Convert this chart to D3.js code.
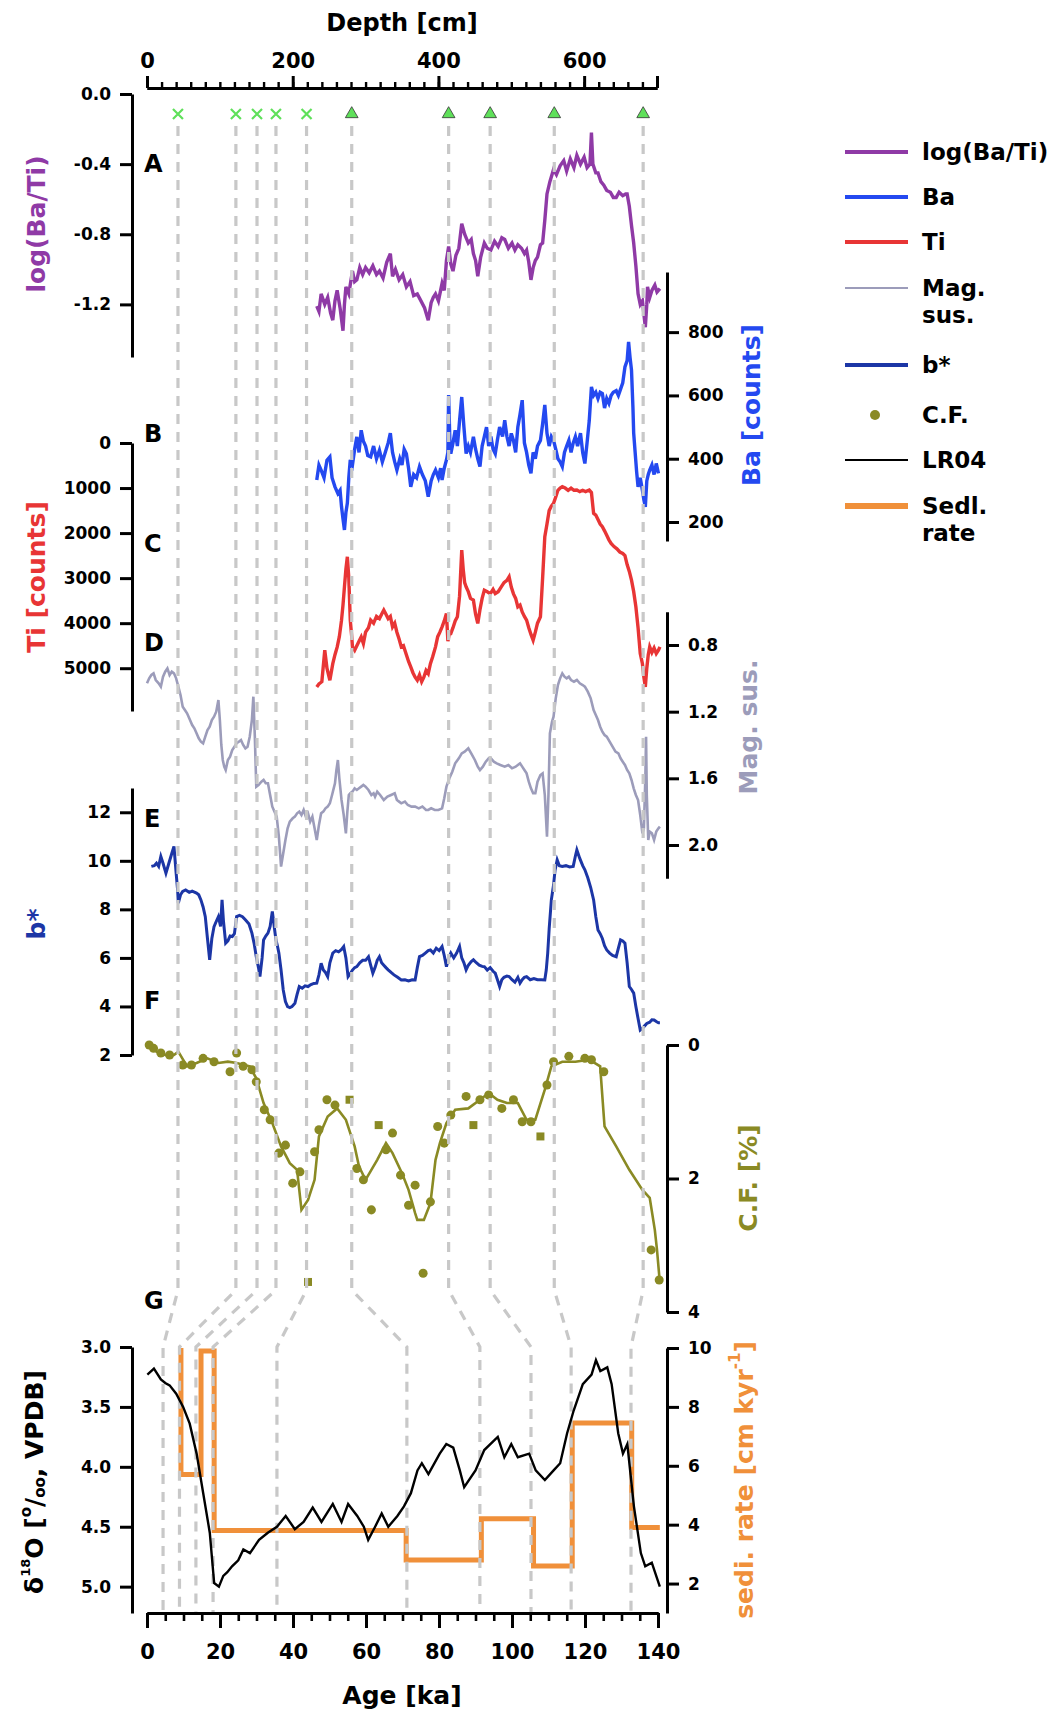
<!DOCTYPE html>
<html><head><meta charset="utf-8">
<script src="https://cdn.jsdelivr.net/npm/d3@7"></script>
<style>
body{margin:0;background:#fff}
svg text{font-family:"DejaVu Sans",Verdana,sans-serif;font-weight:bold}
</style>
</head><body>
<svg id="c" width="1055" height="1713"></svg>
<script>
// ---------------- DATA ----------------
const tieDepth = [42.5, 122, 151, 177, 219, 281, 414, 471, 559, 681];
const tieAge   = [4.4, 8.9, 13.4, 18.1, 35.6, 71.2, 91.2, 105.2, 116.2, 132.6];
const tieType  = ["x","x","x","x","x","tri","tri","tri","tri","tri"];

const depthTicks = [0, 200, 400, 600];
const ageTicks = [0, 20, 40, 60, 80, 100, 120, 140];
const logTicks = [0, -0.4, -0.8, -1.2];
const baTicks = [200, 400, 600, 800];
const tiTicks = [0, 1000, 2000, 3000, 4000, 5000];
const magTicks = [0.8, 1.2, 1.6, 2.0];
const bTicks = [2, 4, 6, 8, 10, 12];
const cfTicks = [0, 2, 4];
const d18Ticks = [3.0, 3.5, 4.0, 4.5, 5.0];
const sedTicks = [2, 4, 6, 8, 10];

// log(Ba/Ti) vs depth [cm]
const logBaTi = [[233,-1.21],[236,-1.24],[239,-1.14],[244,-1.20],[248,-1.16],[252,-1.25],[255,-1.29],[258,-1.18],[261,-1.12],[265,-1.22],[269,-1.35],[271,-1.20],[273,-1.10],[277,-1.14],[282,-1.01],[285,-1.07],[288,-1.06],[292,-0.99],[296,-1.03],[300,-0.99],[305,-1.02],[310,-0.98],[315,-1.03],[319,-1.01],[324,-1.05],[329,-0.96],[334,-0.91],[337,-1.04],[341,-1.00],[346,-1.06],[351,-1.03],[356,-1.10],[361,-1.07],[366,-1.15],[371,-1.14],[376,-1.18],[381,-1.22],[386,-1.29],[390,-1.19],[393,-1.16],[396,-1.14],[400,-1.18],[405,-1.08],[408,-1.12],[411,-0.95],[414,-0.87],[417,-0.97],[420,-1.01],[424,-0.92],[428,-0.88],[432,-0.74],[436,-0.80],[441,-0.85],[445,-0.83],[448,-0.91],[451,-0.95],[454,-1.04],[458,-0.93],[463,-0.85],[467,-0.88],[472,-0.89],[477,-0.84],[482,-0.87],[487,-0.82],[491,-0.83],[496,-0.88],[501,-0.85],[505,-0.89],[509,-0.86],[514,-0.88],[518,-0.91],[521,-0.89],[524,-0.96],[527,-1.06],[530,-0.99],[533,-0.95],[536,-0.93],[540,-0.86],[543,-0.85],[546,-0.72],[549,-0.57],[553,-0.50],[558,-0.43],[562,-0.46],[567,-0.41],[572,-0.38],[576,-0.44],[581,-0.37],[586,-0.42],[590,-0.35],[595,-0.40],[600,-0.36],[604,-0.42],[608,-0.40],[610,-0.22],[612,-0.40],[616,-0.45],[619,-0.45],[623,-0.50],[627,-0.52],[631,-0.55],[636,-0.56],[640,-0.59],[644,-0.59],[648,-0.56],[653,-0.58],[657,-0.57],[659,-0.57],[662,-0.64],[665,-0.75],[668,-0.85],[671,-0.98],[674,-1.14],[677,-1.20],[680,-1.18],[684,-1.33],[686,-1.20],[687,-1.10],[690,-1.16],[693,-1.12],[697,-1.09],[700,-1.13],[704,-1.11]];

// Ba [counts] vs depth
const ba = [[233,333],[236,380],[239,364],[243,340],[247,395],[251,406],[254,340],[258,311],[262,290],[265,300],[267,248],[269,210],[271,175],[273,230],[275,260],[277,340],[279,396],[282,380],[285,430],[288,469],[291,420],[294,490],[297,455],[300,440],[303,410],[307,406],[311,440],[315,400],[319,427],[323,390],[327,420],[331,450],[334,481],[337,420],[340,390],[343,364],[347,400],[350,380],[353,430],[356,416],[359,370],[362,311],[366,350],[370,340],[374,375],[378,350],[382,330],[386,280],[390,330],[393,350],[396,364],[400,340],[403,370],[405,333],[408,370],[411,396],[413,420],[414,601],[416,430],[417,416],[420,450],[423,490],[426,440],[429,520],[432,595],[435,500],[438,416],[441,440],[444,420],[448,469],[451,430],[454,400],[457,375],[460,440],[463,470],[466,500],[469,440],[472,470],[475,430],[478,416],[481,460],[484,500],[488,470],[491,522],[494,470],[497,440],[500,480],[503,458],[506,420],[509,500],[512,540],[515,585],[518,450],[521,420],[524,380],[527,354],[530,420],[533,400],[536,440],[540,458],[543,510],[546,570],[549,480],[552,440],[555,470],[558,458],[561,430],[564,400],[567,390],[570,375],[573,420],[576,440],[579,458],[582,420],[585,450],[588,470],[591,440],[595,481],[598,420],[601,385],[604,450],[607,520],[610,627],[613,600],[616,610],[619,590],[622,610],[625,606],[628,560],[631,590],[634,575],[637,600],[640,610],[644,615],[647,600],[650,620],[653,640],[656,690],[659,710],[661,769],[663,720],[665,680],[667,560],[668,481],[670,420],[672,360],[674,311],[677,340],[680,300],[682,270],[684,248],[686,330],[688,350],[690,364],[693,380],[696,350],[699,385],[702,354]];

// Ti [counts] vs depth
const ti = [[233,5415],[236,5350],[240,5300],[244,4600],[247,5000],[251,5267],[255,4900],[258,4700],[261,4533],[264,4300],[267,3933],[269,3600],[271,3193],[273,2800],[275,2526],[277,3000],[279,3933],[281,4300],[282,4526],[285,4600],[288,4500],[291,4400],[294,4304],[297,4450],[300,4200],[304,4100],[307,3933],[311,4000],[315,3850],[319,3900],[322,3800],[325,3711],[328,3800],[331,3900],[334,3850],[337,4082],[340,4000],[343,4200],[346,4350],[349,4526],[352,4500],[356,4700],[359,4850],[362,4970],[365,5100],[368,5200],[371,5267],[374,5150],[377,5300],[380,5200],[383,5050],[386,5119],[389,4900],[392,4750],[396,4526],[399,4300],[402,4200],[405,4082],[408,3950],[411,3785],[413,4400],[415,4230],[417,4230],[420,4100],[423,3950],[426,3859],[429,3400],[432,2377],[434,2800],[436,3100],[438,3193],[441,3300],[444,3450],[448,3489],[451,3800],[454,4007],[457,3700],[460,3450],[463,3267],[467,3300],[471,3350],[475,3250],[478,3341],[482,3300],[486,3200],[490,3100],[494,3050],[497,2970],[500,3200],[503,3350],[506,3450],[509,3637],[512,3600],[515,3750],[518,3850],[521,3933],[524,4100],[527,4250],[530,4378],[533,4200],[536,4000],[540,3859],[543,3000],[546,2081],[549,1800],[552,1500],[555,1400],[558,1341],[561,1200],[564,1050],[567,1000],[570,970],[574,1000],[578,1050],[582,1000],[586,1050],[590,1044],[594,1080],[598,1050],[602,1080],[607,1044],[610,1100],[613,1563],[616,1600],[619,1700],[622,1800],[625,1859],[628,1950],[631,2050],[634,2150],[637,2230],[641,2300],[645,2350],[649,2420],[653,2452],[656,2500],[659,2700],[662,2850],[665,3044],[668,3300],[671,3637],[674,4100],[677,4674],[680,4900],[682,5200],[684,5415],[686,5000],[688,4700],[690,4526],[693,4650],[696,4550],[699,4674],[702,4600],[704,4526]];

// Magnetic susceptibility vs depth
const magSus = [[0,1.03],[3,1.00],[6,0.98],[9,0.97],[12,1.01],[16,1.03],[19,1.05],[22,0.99],[25,0.96],[28,0.94],[31,0.98],[34,0.96],[37,0.97],[40,1.00],[43,1.05],[46,1.10],[49,1.17],[52,1.19],[55,1.21],[58,1.24],[62,1.28],[65,1.30],[68,1.33],[71,1.36],[74,1.38],[77,1.39],[80,1.35],[83,1.31],[86,1.29],[89,1.25],[92,1.23],[95,1.20],[98,1.13],[100,1.25],[102,1.40],[104,1.49],[106,1.53],[108,1.55],[111,1.49],[114,1.47],[117,1.43],[120,1.41],[123,1.39],[126,1.38],[129,1.37],[132,1.40],[135,1.42],[138,1.41],[141,1.35],[144,1.25],[146,1.11],[148,1.35],[150,1.65],[153,1.64],[157,1.62],[160,1.61],[163,1.63],[166,1.63],[169,1.70],[172,1.77],[175,1.80],[178,1.83],[181,1.95],[184,2.13],[187,2.05],[190,1.97],[193,1.90],[196,1.86],[200,1.84],[203,1.83],[206,1.81],[209,1.80],[212,1.82],[215,1.79],[218,1.83],[221,1.81],[224,1.86],[227,1.83],[230,1.90],[233,1.97],[236,1.88],[239,1.81],[242,1.80],[245,1.78],[248,1.77],[251,1.75],[254,1.70],[258,1.63],[260,1.55],[262,1.49],[264,1.60],[267,1.73],[270,1.82],[273,1.93],[275,1.80],[277,1.70],[279,1.69],[282,1.68],[285,1.66],[288,1.67],[291,1.66],[294,1.65],[297,1.64],[300,1.65],[304,1.67],[308,1.70],[311,1.69],[313,1.71],[316,1.68],[320,1.70],[325,1.73],[330,1.71],[335,1.70],[340,1.69],[343,1.73],[346,1.74],[349,1.75],[354,1.74],[358,1.76],[363,1.77],[368,1.77],[373,1.78],[378,1.77],[383,1.79],[386,1.79],[390,1.78],[395,1.79],[400,1.79],[405,1.78],[408,1.72],[411,1.65],[415,1.60],[419,1.56],[423,1.51],[428,1.48],[432,1.45],[436,1.44],[441,1.42],[445,1.45],[450,1.49],[454,1.53],[457,1.55],[461,1.53],[465,1.50],[469,1.48],[472,1.48],[476,1.50],[480,1.51],[485,1.52],[491,1.53],[496,1.52],[501,1.54],[506,1.53],[509,1.52],[512,1.51],[515,1.53],[518,1.55],[521,1.57],[524,1.62],[527,1.66],[530,1.69],[533,1.69],[536,1.62],[540,1.58],[543,1.57],[546,1.70],[549,1.95],[551,1.70],[553,1.33],[556,1.26],[558,1.23],[561,1.12],[564,1.04],[567,1.00],[570,0.97],[573,0.99],[576,1.00],[579,0.99],[582,1.01],[586,1.02],[590,1.01],[594,1.03],[598,1.04],[601,1.05],[605,1.08],[609,1.12],[613,1.19],[616,1.22],[619,1.25],[622,1.29],[625,1.32],[628,1.34],[631,1.35],[635,1.38],[639,1.41],[643,1.44],[647,1.45],[650,1.48],[653,1.50],[656,1.52],[659,1.55],[662,1.57],[665,1.61],[668,1.66],[671,1.70],[674,1.73],[677,1.82],[680,1.93],[682,1.90],[684,1.60],[685,1.35],[686,1.70],[688,1.97],[690,1.92],[693,1.93],[696,1.97],[699,1.92],[702,1.90],[704,1.89]];

// b* vs depth
const bStar = [[6,9.77],[10,9.8],[13,9.9],[16,9.77],[19,10.18],[22,9.9],[26,9.49],[30,9.9],[34,10.3],[37,10.59],[40,9.49],[42,8.8],[43,8.26],[46,8.6],[49,8.74],[53,8.8],[58,8.7],[62,8.75],[68,8.67],[71,8.6],[74,8.39],[77,8.1],[80,7.70],[83,6.8],[86,5.92],[89,6.8],[92,7.29],[95,7.5],[98,7.70],[101,7.3],[103,8.39],[105,7.5],[108,6.61],[111,6.7],[114,6.9],[117,6.88],[120,7.0],[123,7.70],[127,7.75],[131,7.7],[135,7.57],[140,7.4],[144,7.02],[147,6.6],[150,6.05],[153,5.6],[155,5.23],[158,6.0],[160,6.74],[163,6.9],[166,7.02],[169,7.3],[172,7.91],[175,7.2],[177,6.74],[179,6.5],[181,6.20],[184,5.5],[187,4.68],[190,4.2],[193,3.99],[196,3.95],[199,4.0],[203,4.13],[206,4.5],[209,4.82],[213,4.75],[217,4.85],[221,4.82],[225,4.9],[229,4.95],[233,4.96],[236,5.3],[239,5.78],[242,5.5],[245,5.4],[248,5.23],[251,5.8],[255,6.20],[259,6.3],[263,6.25],[267,6.35],[270,6.47],[273,6.0],[276,5.23],[279,5.35],[282,5.5],[285,5.6],[288,5.64],[292,5.8],[296,5.9],[300,5.9],[304,6.05],[307,5.7],[310,5.37],[313,5.6],[316,5.9],[319,6.05],[322,5.8],[325,5.7],[328,5.6],[331,5.51],[335,5.4],[339,5.3],[344,5.2],[349,5.09],[354,5.1],[359,5.05],[364,5.1],[368,5.09],[371,5.6],[374,6.05],[378,6.1],[382,6.2],[386,6.3],[389,6.33],[393,6.2],[397,6.4],[401,6.3],[405,6.47],[408,6.1],[411,5.64],[414,6.0],[417,6.20],[421,6.0],[425,6.2],[429,6.47],[432,6.0],[435,5.8],[438,5.51],[441,5.7],[445,5.85],[448,5.92],[452,5.8],[456,5.7],[460,5.65],[463,5.64],[467,5.5],[471,5.6],[475,5.45],[478,5.37],[481,5.1],[484,4.82],[487,5.1],[490,5.2],[494,5.25],[497,5.23],[501,5.1],[505,5.0],[509,5.2],[512,4.96],[515,5.1],[518,5.2],[521,5.23],[526,5.1],[531,5.15],[536,5.1],[541,5.1],[546,5.09],[548,5.5],[550,6.20],[552,7.2],[555,8.39],[558,9.0],[560,9.6],[563,10.04],[566,9.8],[570,9.77],[575,9.8],[580,9.75],[585,9.77],[588,10.2],[590,10.45],[594,10.1],[598,9.8],[601,9.63],[605,9.3],[609,8.9],[613,8.39],[616,7.7],[619,7.15],[622,7.0],[625,6.8],[628,6.5],[631,6.33],[635,6.2],[639,6.1],[644,6.05],[647,6.4],[650,6.74],[653,6.7],[656,6.61],[659,5.8],[662,4.82],[665,4.7],[668,4.55],[671,4.0],[674,3.5],[677,3.03],[680,3.1],[683,3.2],[686,3.30],[690,3.35],[693,3.45],[696,3.44],[699,3.38],[702,3.33],[704,3.33]];

// C.F. [%] smoothed line and measured points vs depth
const cfLine = [[3,0.0],[13,0.10],[25,0.15],[37,0.15],[43,0.10],[55,0.32],[68,0.27],[83,0.20],[98,0.27],[111,0.25],[123,0.27],[141,0.32],[150,0.50],[160,0.87],[172,1.17],[184,1.52],[196,1.77],[206,1.87],[212,2.47],[221,2.32],[230,2.02],[236,1.37],[248,1.07],[261,0.95],[273,1.12],[285,1.52],[291,1.82],[300,2.02],[316,1.72],[328,1.47],[337,1.62],[350,1.92],[359,2.17],[368,2.52],[371,2.62],[380,2.62],[389,2.37],[396,1.72],[402,1.47],[411,1.17],[423,0.97],[441,0.95],[457,0.82],[469,0.72],[481,0.82],[494,0.87],[509,0.87],[521,1.12],[533,1.12],[546,0.67],[555,0.32],[570,0.25],[588,0.25],[607,0.22],[622,0.32],[628,1.22],[644,1.52],[662,1.87],[680,2.17],[690,2.29],[697,2.77],[700,3.07],[704,3.57]];
const cfPoints = [[3,0.0],[9,0.05],[19,0.12],[31,0.15],[49,0.30],[61,0.30],[77,0.20],[92,0.25],[114,0.40],[123,0.12],[132,0.32],[144,0.37],[150,0.55],[161,0.97],[169,1.12],[181,1.62],[190,1.50],[200,2.07],[210,1.90],[221,3.55],[230,1.60],[236,1.27],[247,0.82],[258,0.90],[278,0.82],[288,1.85],[297,2.02],[308,2.47],[318,1.20],[328,1.57],[337,1.32],[348,1.95],[359,2.40],[368,2.10],[379,3.42],[389,2.35],[399,1.22],[408,1.47],[417,1.05],[438,0.77],[448,1.20],[457,0.82],[469,0.75],[487,0.95],[503,0.82],[515,1.15],[527,1.15],[540,1.37],[549,0.60],[558,0.25],[579,0.17],[601,0.20],[610,0.22],[627,0.40],[692,3.07],[703,3.52]];
const cfSquare = [221, 278, 318, 448, 540];   // depths of points drawn as squares

// LR04 benthic d18O vs age [ka]
const lr04 = [[0.1,3.23],[1.9,3.18],[3.8,3.27],[5.0,3.30],[6.2,3.32],[8.0,3.39],[9.9,3.50],[11.7,3.64],[13.6,3.89],[15.4,4.22],[17.2,4.55],[18.4,4.97],[19.7,5.00],[20.9,4.91],[22.0,4.88],[23.3,4.83],[25.0,4.78],[26.4,4.69],[28.2,4.72],[30.7,4.61],[33.1,4.55],[35.6,4.50],[38.0,4.41],[40.5,4.52],[42.9,4.46],[45.4,4.34],[47.8,4.46],[50.9,4.31],[53.3,4.46],[55.1,4.31],[57.6,4.41],[59.4,4.50],[60.6,4.61],[62.5,4.50],[64.3,4.39],[66.1,4.50],[68.6,4.41],[70.4,4.33],[72.3,4.22],[74.1,4.03],[75.3,3.97],[77.1,4.06],[80.2,3.89],[82.0,3.81],[83.9,3.84],[85.7,4.03],[86.9,4.17],[90.0,4.03],[92.4,3.86],[96.1,3.75],[97.9,3.92],[99.8,3.81],[101.6,3.92],[104.7,3.89],[106.5,4.03],[109.0,4.11],[111.4,4.03],[113.2,3.97],[115.1,3.72],[116.9,3.53],[119.4,3.31],[121.8,3.23],[123.0,3.11],[124.2,3.20],[126.1,3.17],[127.3,3.31],[129.1,3.72],[130.4,3.89],[131.6,3.81],[133.4,4.33],[135.3,4.72],[136.5,4.83],[138.3,4.80],[140.5,5.00]];

// Sedimentation rate [cm/kyr] (step, value holds until next age)
const sediAge  = [9.3, 9.3, 14.8, 18.4, 71.0, 91.6, 105.9, 116.5, 132.8, 140.5];
const sediRate = [10.0, 5.7, 9.9, 3.8, 2.8, 4.2, 2.6, 7.45, 3.9, 3.9];

const legendItems = [
  {label:["log(Ba/Ti)"], color:"#8f3aa6", w:4, type:"line"},
  {label:["Ba"], color:"#2449f0", w:4, type:"line"},
  {label:["Ti"], color:"#e83535", w:4, type:"line"},
  {label:["Mag.","sus."], color:"#9c9cba", w:2, type:"line"},
  {label:["b*"], color:"#1c36a6", w:4, type:"line"},
  {label:["C.F."], color:"#8a8a24", w:0, type:"dot"},
  {label:["LR04"], color:"#000", w:2, type:"line"},
  {label:["Sedl.","rate"], color:"#f0903a", w:6, type:"line"}
];

// ---------------- SCALES ----------------
const svg = d3.select("#c");
const xDepth = d3.scaleLinear([0,700],[147,657]);
const xAge   = d3.scaleLinear([0,140],[147,658]);
const yLog = d3.scaleLinear([0,-1.5],[94,357]);
const yBa  = d3.scaleLinear([140,990],[541,272]);
const yTi  = d3.scaleLinear([0,5950],[443,711]);
const yMag = d3.scaleLinear([0.6,2.2],[611.7,878.3]);
const yB   = d3.scaleLinear([2,13],[1055,788]);
const yCF  = d3.scaleLinear([0,4],[1045,1312]);
const yD18 = d3.scaleLinear([3.0,5.22],[1347,1613]);
const ySed = d3.scaleLinear([1,10],[1613,1348]);

const FONT = '"DejaVu Sans",Verdana,sans-serif';
const fmt1 = d => d.toFixed(1);   // plain hyphen minus, as in the original

function drawSeries(data, yScale, color, width){
  const line = d3.line().x(d=>xDepth(d[0])).y(d=>yScale(d[1]));
  svg.append("path").datum(data).attr("d",line).attr("fill","none")
    .attr("stroke",color).attr("stroke-width",width).attr("stroke-linejoin","miter");
}

// ---------------- SERIES ----------------
drawSeries(logBaTi, yLog, "#8f3aa6", 3.4);
drawSeries(ba, yBa, "#2449f0", 3.4);
drawSeries(ti, yTi, "#e83535", 3.4);
drawSeries(magSus, yMag, "#9c9cba", 2.6);
drawSeries(bStar, yB, "#1c36a6", 3);
drawSeries(cfLine, yCF, "#8a8a24", 2.6);
svg.append("g").selectAll("path").data(cfPoints).join("path")
  .attr("transform", d=>`translate(${xDepth(d[0])},${yCF(d[1])})`)
  .attr("d", d=>d3.symbol(cfSquare.includes(d[0]) ? d3.symbolSquare : d3.symbolCircle, 64)())
  .attr("fill","#8a8a24");

// sedimentation rate
svg.append("path").datum(sediAge.map((a,i)=>[a,sediRate[i]]))
  .attr("d", d3.line().x(d=>xAge(d[0])).y(d=>ySed(d[1])).curve(d3.curveStepAfter))
  .attr("fill","none").attr("stroke","#f0903a").attr("stroke-width",5);

// tie-point dashed lines (on top of data)
const tieG = svg.append("g");
tieDepth.forEach((dp,i)=>{
  const x1 = xDepth(dp), x2 = xAge(tieAge[i]);
  tieG.append("path")
    .attr("d", d3.line()([[x1,126],[x1,1290],[x2,1347],[x2,1613]]))
    .attr("fill","none").attr("stroke","#c8c8c8").attr("stroke-width",3.2)
    .attr("stroke-dasharray","10,8");
});

// LR04
svg.append("path").datum(lr04)
  .attr("d", d3.line().x(d=>xAge(d[0])).y(d=>yD18(d[1])))
  .attr("fill","none").attr("stroke","#000").attr("stroke-width",2.4);

// markers
const green = "#5fe05a";
tieDepth.forEach((dp,i)=>{
  const x = xDepth(dp), y = 114;
  if(tieType[i]==="x"){
    svg.append("path").attr("d",`M${x-5},${y-5}L${x+5},${y+5}M${x+5},${y-5}L${x-5},${y+5}`)
      .attr("stroke",green).attr("stroke-width",2.2).attr("fill","none");
  } else {
    svg.append("path").attr("d", d3.symbol(d3.symbolTriangle, 70)())
      .attr("transform",`translate(${x},${y})`).attr("fill",green)
      .attr("stroke","#333").attr("stroke-width",0.8);
  }
});

// ---------------- AXES ----------------
function styleAxis(g, fs){
  g.attr("font-family",FONT).attr("font-size",fs).attr("font-weight","bold");
  g.select(".domain").attr("stroke","#000").attr("stroke-width",3);
  g.selectAll(".tick line").attr("stroke","#000").attr("stroke-width",3);
  g.selectAll(".tick text").attr("fill","#000");
}
function leftAxis(scale, ticks, fmt){
  const g = svg.append("g").attr("transform","translate(132,0)")
    .call(d3.axisLeft(scale).tickValues(ticks).tickSize(12).tickSizeOuter(0).tickPadding(9).tickFormat(fmt));
  styleAxis(g, 17);
}
function rightAxis(scale, ticks, fmt){
  const g = svg.append("g").attr("transform","translate(667,0)")
    .call(d3.axisRight(scale).tickValues(ticks).tickSize(12).tickSizeOuter(0).tickPadding(9).tickFormat(fmt));
  styleAxis(g, 17);
}
leftAxis(yLog, logTicks, fmt1);
leftAxis(yTi, tiTicks, d3.format("d"));
leftAxis(yB, bTicks, d3.format("d"));
leftAxis(yD18, d18Ticks, fmt1);
rightAxis(yBa, baTicks, d3.format("d"));
rightAxis(yMag, magTicks, fmt1);
rightAxis(yCF, cfTicks, d3.format("d"));
rightAxis(ySed, sedTicks, d3.format("d"));

// top depth axis
{
  const gMinor = svg.append("g").attr("transform","translate(0,88)")
    .call(d3.axisTop(xDepth).tickValues(d3.range(0,701,20)).tickSize(6).tickSizeOuter(0).tickFormat(""));
  styleAxis(gMinor, 21);
  gMinor.selectAll(".tick line").attr("stroke-width",2.4);
  const gMajor = svg.append("g").attr("transform","translate(0,88)")
    .call(d3.axisTop(xDepth).tickValues(depthTicks.concat([700])).tickSize(12).tickSizeOuter(0).tickPadding(8)
      .tickFormat(d=>d===700?"":d));
  styleAxis(gMajor, 21);
  svg.append("text").attr("x",402).attr("y",31).attr("text-anchor","middle")
    .attr("font-size",24).attr("fill","#000").text("Depth [cm]");
}
// bottom age axis
{
  const gMinor = svg.append("g").attr("transform","translate(0,1613)")
    .call(d3.axisBottom(xAge).tickValues(d3.range(0,141,5)).tickSize(8).tickSizeOuter(0).tickFormat(""));
  styleAxis(gMinor, 21);
  gMinor.selectAll(".tick line").attr("stroke-width",2.6);
  const gMajor = svg.append("g").attr("transform","translate(0,1613)")
    .call(d3.axisBottom(xAge).tickValues(ageTicks).tickSize(15).tickSizeOuter(0).tickPadding(16));
  styleAxis(gMajor, 21);
  svg.append("text").attr("x",402).attr("y",1704).attr("text-anchor","middle")
    .attr("font-size",25).attr("fill","#000").text("Age [ka]");
}

// axis titles
function vTitle(x, y, color, build){
  const t = svg.append("text").attr("transform",`translate(${x},${y}) rotate(-90)`)
    .attr("text-anchor","middle").attr("dominant-baseline","central")
    .attr("font-size",25).attr("fill",color);
  build(t);
}
vTitle(36, 224, "#8f3aa6", t=>t.text("log(Ba/Ti)"));
vTitle(36, 577, "#e83535", t=>t.text("Ti [counts]"));
vTitle(36, 924, "#1c36a6", t=>t.text("b*"));
vTitle(751, 405, "#2449f0", t=>t.text("Ba [counts]"));
vTitle(748, 727, "#9c9cba", t=>t.text("Mag. sus."));
vTitle(748, 1178, "#8a8a24", t=>t.text("C.F. [%]"));
vTitle(744, 1480, "#f0903a", t=>{
  t.append("tspan").text("sedi. rate [cm kyr");
  t.append("tspan").attr("dy",-9).attr("font-size",15).text("-1");
  t.append("tspan").attr("dy",9).text("]");
});
vTitle(34, 1482, "#000", t=>{
  t.append("tspan").text("δ");
  t.append("tspan").attr("dy",-9).attr("font-size",13).text("18");
  t.append("tspan").attr("dy",9).text("O [");
  t.append("tspan").attr("dy",-8).attr("font-size",15).text("o");
  t.append("tspan").attr("dy",8).text("/");
  t.append("tspan").attr("dy",6).attr("font-size",15).text("oo");
  t.append("tspan").attr("dy",-6).text(", VPDB]");
});

// panel letters
const panelLetters = [["A",172],["B",442],["C",552],["D",651],["E",827],["F",1009],["G",1309]];
svg.append("g").selectAll("text").data(panelLetters).join("text")
  .attr("x",144).attr("y",d=>d[1]).attr("font-size",24).attr("fill","#000").text(d=>d[0]);

// legend
const legendY = [152,197,242,288,365,415,460,506];
legendItems.forEach((it,i)=>{
  const y = legendY[i];
  if(it.type==="line"){
    svg.append("line").attr("x1",845).attr("x2",908).attr("y1",y).attr("y2",y)
      .attr("stroke",it.color).attr("stroke-width",it.w);
  } else {
    svg.append("circle").attr("cx",875).attr("cy",y).attr("r",5).attr("fill",it.color);
  }
  it.label.forEach((s,j)=>{
    svg.append("text").attr("x",922).attr("y",y+27*j).attr("dominant-baseline","central")
      .attr("font-size",23).attr("fill","#000").text(s);
  });
});
</script>
</body></html>
